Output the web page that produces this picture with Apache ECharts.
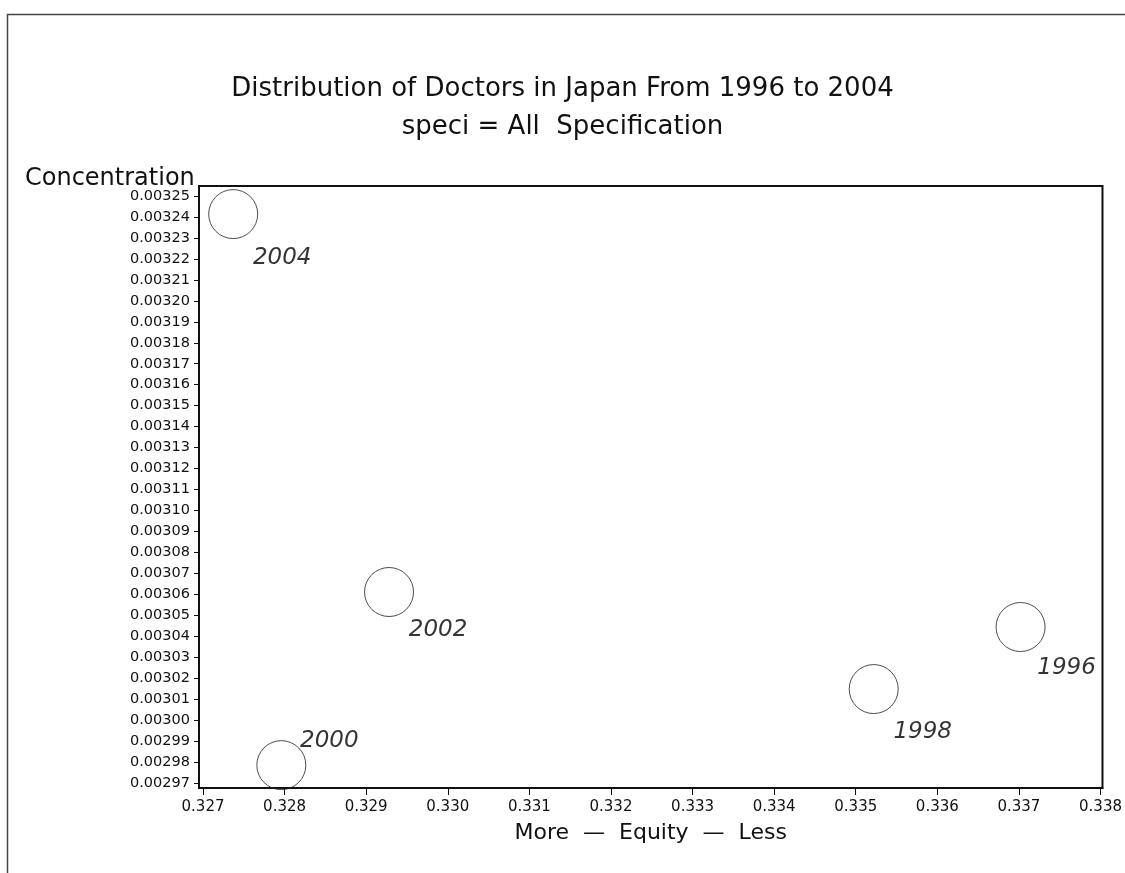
<!DOCTYPE html>
<html>
<head>
<meta charset="utf-8">
<script src="https://cdn.jsdelivr.net/npm/echarts@6/dist/echarts.min.js"></script>
<style>
  html, body { margin: 0; padding: 0; background: #fff; }
  #chart { width: 1125px; height: 873px; }
</style>
</head>
<body>
<div id="chart"></div>
<script>
// Years plotted, with equity index (x) and concentration (y)
const years = ['1996', '1998', '2000', '2002', '2004'];
const equity = [0.33702, 0.33522, 0.32796, 0.32928, 0.32737];
const concentration = [0.0030444, 0.0030148, 0.0029785, 0.0030611, 0.0032414];

// Tick values shown on each axis
const xTicks = [0.327, 0.328, 0.329, 0.330, 0.331, 0.332, 0.333, 0.334, 0.335, 0.336, 0.337, 0.338];
const yTicks = [0.00297, 0.00298, 0.00299, 0.00300, 0.00301, 0.00302, 0.00303, 0.00304,
  0.00305, 0.00306, 0.00307, 0.00308, 0.00309, 0.00310, 0.00311, 0.00312, 0.00313,
  0.00314, 0.00315, 0.00316, 0.00317, 0.00318, 0.00319, 0.00320, 0.00321, 0.00322,
  0.00323, 0.00324, 0.00325];

// Label placement per year (2000 sits above its bubble)
const labelOffsets = {
  '1996': [46, 41], '1998': [49, 43], '2000': [48, -24], '2002': [49, 38], '2004': [49, 44]
};

const ink = '#111111';
const font = 'DejaVu Sans';

const points = years.map((y, i) => ({
  value: [equity[i], concentration[i]],
  name: y,
  label: { offset: labelOffsets[y] }
}));

const chart = echarts.init(document.getElementById('chart'), null, { renderer: 'canvas' });
chart.setOption({
  backgroundColor: '#ffffff',
  animation: false,
  title: [
    {
      text: 'Distribution of Doctors in Japan From 1996 to 2004',
      left: 'center', top: 71,
      textStyle: { fontFamily: font, fontWeight: 'normal', fontSize: 26, color: ink }
    },
    {
      text: 'speci = All  Specification',
      left: 'center', top: 109,
      textStyle: { fontFamily: font, fontWeight: 'normal', fontSize: 26, color: ink }
    },
    {
      text: 'Concentration',
      left: 20, top: 162,
      textStyle: { fontFamily: font, fontWeight: 'normal', fontSize: 24, color: ink }
    }
  ],
  graphic: [
    {
      type: 'polyline',
      shape: { points: [[7.5, 873], [7.5, 14.5], [1125, 14.5]] },
      style: { stroke: '#444', lineWidth: 1.5, fill: null }
    }
  ],
  grid: {
    left: 199, right: 22, top: 186, bottom: 85,
    show: true, borderColor: ink, borderWidth: 2, backgroundColor: 'transparent'
  },
  xAxis: {
    type: 'value',
    min: 0.326951, max: 0.338024,
    name: 'More  \u2014  Equity  \u2014  Less',
    nameLocation: 'middle', nameGap: 34,
    nameTextStyle: { fontFamily: font, fontSize: 22, color: ink },
    splitLine: { show: false },
    axisLine: { show: true, lineStyle: { color: ink, width: 2 } },
    axisTick: { show: true, inside: false, length: 7, customValues: xTicks, lineStyle: { color: ink, width: 1 } },
    axisLabel: {
      customValues: xTicks, margin: 12,
      fontFamily: font, fontSize: 15, color: ink,
      formatter: v => v.toFixed(3)
    }
  },
  yAxis: {
    type: 'value',
    min: 0.0029676, max: 0.0032548,
    splitLine: { show: false },
    axisLine: { show: true, lineStyle: { color: ink, width: 2 } },
    axisTick: { show: true, inside: false, length: 5, customValues: yTicks, lineStyle: { color: ink, width: 1 } },
    axisLabel: {
      customValues: yTicks, margin: 9,
      fontFamily: font, fontSize: 14.5, color: ink,
      formatter: v => v.toFixed(5)
    }
  },
  series: [
    {
      type: 'scatter',
      symbol: 'circle',
      symbolSize: 49,
      data: points,
      itemStyle: { color: 'rgba(255,255,255,0)', borderColor: '#222', borderWidth: 1 },
      label: {
        show: true,
        position: 'inside',
        formatter: p => p.name,
        fontFamily: font, fontStyle: 'italic', fontSize: 23, color: '#000'
      },
      emphasis: { disabled: true }
    }
  ]
});
</script>
</body>
</html>
